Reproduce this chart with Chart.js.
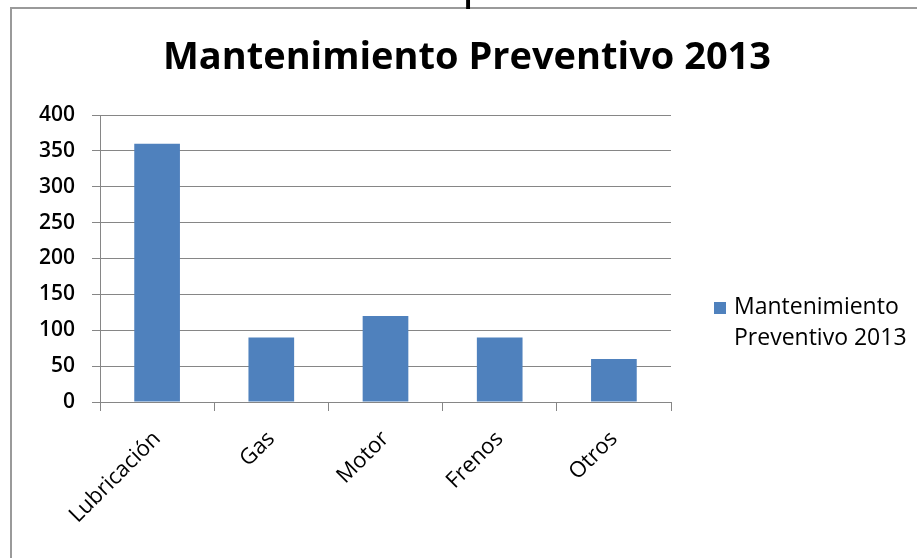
<!DOCTYPE html>
<html>
<head>
<meta charset="utf-8">
<title>Mantenimiento Preventivo 2013</title>
<script src="https://cdn.jsdelivr.net/npm/chart.js@4.4.1/dist/chart.umd.min.js"></script>
<style>
  html, body { margin: 0; padding: 0; background: #fff; }
  #wrap { width: 917px; height: 558px; position: relative; }
</style>
</head>
<body>
<div id="wrap"><canvas id="chart" width="917" height="558"></canvas></div>
<script>
// chart data
const chartTitle = 'Mantenimiento Preventivo 2013';
const seriesLabel = 'Mantenimiento Preventivo 2013';
const categories = ['Lubricación', 'Gas', 'Motor', 'Frenos', 'Otros'];
const values = [360, 90, 120, 90, 60];
const yTickValues = [0, 50, 100, 150, 200, 250, 300, 350, 400];

const BAR_BLUE = '#4f81bd';
const AXIS_GRAY = '#868686';
const FONT = "'Open Sans', 'DejaVu Sans', sans-serif";

// frame, title and the stray letter above the frame
const decorPlugin = {
  id: 'decor',
  beforeDraw(chart) {
    const ctx = chart.ctx;
    ctx.save();
    ctx.fillStyle = '#fff';
    ctx.fillRect(0, 0, chart.width, chart.height);
    ctx.strokeStyle = '#9a9a9a';
    ctx.lineWidth = 2;
    ctx.strokeRect(11, 8, chart.width + 20, chart.height + 20);
    ctx.restore();
  },
  afterDraw(chart) {
    const ctx = chart.ctx;
    ctx.save();
    ctx.fillStyle = '#000';
    ctx.textAlign = 'center';
    ctx.textBaseline = 'middle';
    ctx.font = `bold 38px ${FONT}`;
    ctx.fillText(chartTitle, 467, 58);

    ctx.textAlign = 'left';
    ctx.textBaseline = 'alphabetic';
    ctx.font = `48px ${FONT}`;
    ctx.fillText('p', 462, -2);
    ctx.restore();
  }
};

// legend drawn on the right, label wrapped over two lines
const sideLegend = {
  id: 'sideLegend',
  afterDraw(chart) {
    const ctx = chart.ctx;
    const ds = chart.data.datasets[0];
    const words = ds.label.split(' ');
    const lines = [words[0], words.slice(1).join(' ')];
    ctx.save();
    ctx.fillStyle = ds.backgroundColor;
    ctx.fillRect(714, 302, 12, 12);
    ctx.fillStyle = '#000';
    ctx.font = `23px ${FONT}`;
    ctx.textAlign = 'left';
    ctx.textBaseline = 'middle';
    lines.forEach((line, i) => ctx.fillText(line, 734, 307 + i * 31));
    ctx.restore();
  }
};

new Chart(document.getElementById('chart'), {
  type: 'bar',
  data: {
    labels: categories,
    datasets: [{
      label: seriesLabel,
      data: values,
      backgroundColor: BAR_BLUE,
      borderWidth: 0,
      categoryPercentage: 1,
      barPercentage: 0.4
    }]
  },
  options: {
    responsive: false,
    animation: false,
    layout: { padding: { left: 0, top: 115, right: 246, bottom: 0 } },
    plugins: {
      legend: { display: false },
      title: { display: false },
      tooltip: { enabled: false }
    },
    scales: {
      x: {
        afterFit(scale) { scale.height = 156; },
        grid: {
          offset: true,
          drawOnChartArea: false,
          drawTicks: true,
          tickLength: 9,
          color: AXIS_GRAY
        },
        border: { color: AXIS_GRAY, width: 1 },
        ticks: {
          color: '#000',
          font: { family: FONT, size: 22 },
          minRotation: 45,
          maxRotation: 45,
          padding: 15
        }
      },
      y: {
        min: 0,
        max: 400,
        afterFit(scale) { scale.width = 100; },
        afterBuildTicks(scale) {
          scale.ticks = yTickValues.map(v => ({ value: v }));
        },
        grid: {
          color: AXIS_GRAY,
          tickLength: 8,
          drawTicks: true
        },
        border: { color: AXIS_GRAY, width: 1 },
        ticks: {
          color: '#000',
          font: { family: FONT, size: 21, weight: '600' },
          padding: 17
        }
      }
    }
  },
  plugins: [decorPlugin, sideLegend]
});
</script>
</body>
</html>
